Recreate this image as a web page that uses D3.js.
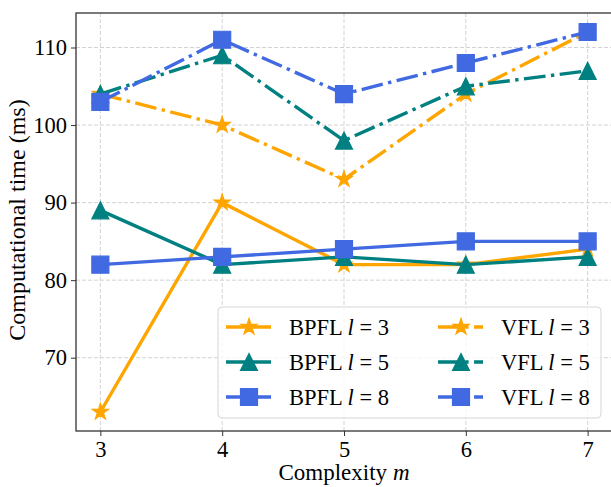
<!DOCTYPE html>
<html>
<head>
<meta charset="utf-8">
<title>Computational time vs complexity</title>
<script src="https://d3js.org/d3.v7.min.js"></script>
<style>
  body { margin:0; background:#fff; }
  svg text { font-family:"Liberation Serif","Times New Roman",Times,serif; fill:#000; }
</style>
</head>
<body>
<div id="chart"></div>
<script>
// data
const complexity = [3, 4, 5, 6, 7];
const bpflL3 = [63, 90, 82, 82, 84];
const bpflL5 = [89, 82, 83, 82, 83];
const bpflL8 = [82, 83, 84, 85, 85];
const vflL3 = [104, 100, 93, 104, 112];
const vflL5 = [104, 109, 98, 105, 107];
const vflL8 = [103, 111, 104, 108, 112];
const yTicks = [70, 80, 90, 100, 110];
const seriesNames = ["BPFL", "BPFL", "BPFL", "VFL", "VFL", "VFL"];
const seriesL = [3, 5, 8, 3, 5, 8];

const W = 611, H = 487;
const lw = 3.4;
const dashDot = [6.4 * lw, 1.6 * lw, 1 * lw, 1.6 * lw].join(",");

const series = [
  {name: seriesNames[0], l: seriesL[0], values: bpflL3, color: "#FFA500", marker: "star", dash: null},
  {name: seriesNames[1], l: seriesL[1], values: bpflL5, color: "#008080", marker: "triangle", dash: null},
  {name: seriesNames[2], l: seriesL[2], values: bpflL8, color: "#4169E1", marker: "square", dash: null},
  {name: seriesNames[3], l: seriesL[3], values: vflL3, color: "#FFA500", marker: "star", dash: dashDot},
  {name: seriesNames[4], l: seriesL[4], values: vflL5, color: "#008080", marker: "triangle", dash: dashDot},
  {name: seriesNames[5], l: seriesL[5], values: vflL8, color: "#4169E1", marker: "square", dash: dashDot}
];

const svg = d3.select("#chart").append("svg").attr("width", W).attr("height", H);

// matplotlib style 5% padding
const xScale = d3.scaleLinear().domain([2.8, 7.2]).range([76, 612]);
const yScale = d3.scaleLinear().domain([60.55, 114.45]).range([431, 13]);

// grid
const grid = svg.append("g").attr("stroke", "#d3d3d3").attr("stroke-width", 1).attr("stroke-dasharray", "4,2");
grid.selectAll(".gx").data(complexity).join("line")
  .attr("x1", d => xScale(d)).attr("x2", d => xScale(d))
  .attr("y1", yScale.range()[0]).attr("y2", yScale.range()[1]);
grid.selectAll(".gy").data(yTicks).join("line")
  .attr("y1", d => yScale(d)).attr("y2", d => yScale(d))
  .attr("x1", xScale.range()[0]).attr("x2", xScale.range()[1]);

// marker shapes (ms ~ 17px)
const ms = 17;
function markerPath(type) {
  if (type === "square") return `M${-ms/2},${-ms/2}h${ms}v${ms}h${-ms}Z`;
  if (type === "triangle") return `M0,${-ms/2}L${ms/2},${ms/2}L${-ms/2},${ms/2}Z`;
  return d3.symbol(d3.symbolStar, (ms / 2) * (ms / 2) / 0.8908130915292852)();
}

const line = d3.line().x((d, i) => xScale(complexity[i])).y(d => yScale(d));

series.forEach(s => {
  const g = svg.append("g");
  g.append("path").datum(s.values)
    .attr("fill", "none").attr("stroke", s.color).attr("stroke-width", lw)
    .attr("stroke-linejoin", "round")
    .attr("stroke-dasharray", s.dash)
    .attr("d", line);
  g.selectAll("path.m").data(s.values).join("path").attr("class", "m")
    .attr("transform", (d, i) => `translate(${xScale(complexity[i])},${yScale(d)})`)
    .attr("d", markerPath(s.marker))
    .attr("fill", s.color).attr("stroke", s.color).attr("stroke-width", 1.2);
});

// axes
const xAxis = svg.append("g").attr("transform", `translate(0,${yScale.range()[0]})`)
  .call(d3.axisBottom(xScale).tickValues(complexity).tickFormat(d3.format("d")).tickSize(5).tickPadding(4));
const yAxis = svg.append("g").attr("transform", `translate(${xScale.range()[0]},0)`)
  .call(d3.axisLeft(yScale).tickValues(yTicks).tickFormat(d3.format("d")).tickSize(5).tickPadding(4));
[xAxis, yAxis].forEach(a => {
  a.attr("font-family", null);
  a.select(".domain").remove();
  a.selectAll(".tick line").attr("stroke", "#333").attr("stroke-width", 1);
  a.selectAll("text").attr("font-size", "22.5px").attr("fill", "#000");
});
xAxis.selectAll("text").attr("dy", "0.75em");

// frame
svg.append("rect")
  .attr("x", xScale.range()[0]).attr("y", yScale.range()[1])
  .attr("width", xScale.range()[1] - xScale.range()[0])
  .attr("height", yScale.range()[0] - yScale.range()[1])
  .attr("fill", "none").attr("stroke", "#333").attr("stroke-width", 1.3);

// axis labels
const xLab = svg.append("text").attr("x", (76 + 612) / 2).attr("y", 480)
  .attr("text-anchor", "middle").attr("font-size", "23px");
xLab.append("tspan").text("Complexity ");
xLab.append("tspan").attr("font-style", "italic").text("m");

svg.append("text").attr("transform", `translate(25,220) rotate(-90)`)
  .attr("text-anchor", "middle").attr("font-size", "24px")
  .text("Computational time (ms)");

// legend
const leg = svg.append("g");
leg.append("rect").attr("x", 218).attr("y", 307).attr("width", 383).attr("height", 111)
  .attr("rx", 4).attr("fill", "#fff").attr("fill-opacity", 0.8)
  .attr("stroke", "#d6d6d6").attr("stroke-width", 1);
const rowY = [327, 362, 397];
const colX = [226, 438];
series.forEach((s, k) => {
  const col = Math.floor(k / 3), row = k % 3;
  const x0 = colX[col], y0 = rowY[row];
  const it = leg.append("g");
  it.append("line").attr("x1", x0).attr("x2", x0 + 45).attr("y1", y0).attr("y2", y0)
    .attr("stroke", s.color).attr("stroke-width", lw).attr("stroke-dasharray", s.dash);
  it.append("path").attr("transform", `translate(${x0 + 23},${y0})`)
    .attr("d", markerPath(s.marker)).attr("fill", s.color).attr("stroke", s.color).attr("stroke-width", 1.2);
  const t = it.append("text").attr("x", x0 + 63).attr("y", y0).attr("dy", "0.35em").attr("font-size", "22.5px");
  t.append("tspan").text(s.name + " ");
  t.append("tspan").attr("font-style", "italic").text("l");
  t.append("tspan").text(" = " + s.l);
});
</script>
</body>
</html>
